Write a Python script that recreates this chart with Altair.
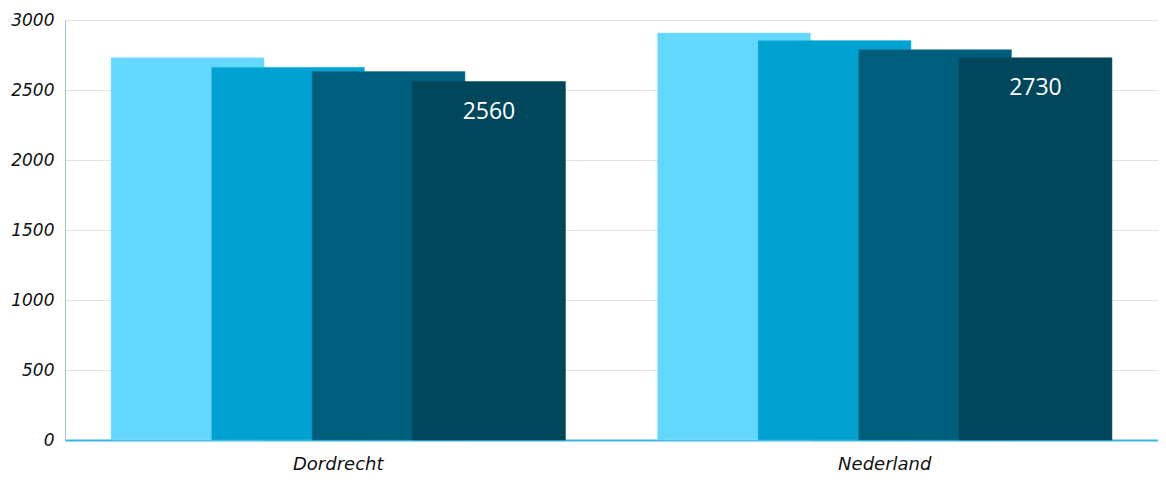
import altair as alt
import pandas as pd

categories = ["Dordrecht", "Nederland"]
series = ["s1", "s2", "s3", "s4"]
values_dordrecht = [2730, 2662, 2632, 2560]
values_nederland = [2908, 2853, 2788, 2730]
colors = ["#63D7FE", "#00A2D2", "#005E7D", "#00475C"]
stroke_colors = ["#8FE3FF", "#40C0E8", "#2A7C98", "#00475C"]
labelled_series = "s4"

rows = []
for cat, vals in zip(categories, [values_dordrecht, values_nederland]):
    for s, v in zip(series, vals):
        rows.append({"cat": cat, "series": s, "value": v})
df = pd.DataFrame(rows)

font = "DejaVu Sans"

x = alt.X("cat:N", sort=categories, scale=alt.Scale(paddingInner=0, paddingOuter=0),
          axis=alt.Axis(title=None, labelAngle=0, ticks=False, domainColor="#3AB3E0",
                        domainWidth=2, labelFont=font, labelFontSize=18,
                        labelFontStyle="italic", labelColor="#111", labelPadding=15))
xo = alt.XOffset("series:N", sort=series,
                 scale=alt.Scale(paddingInner=0, paddingOuter=0.72))
y = alt.Y("value:Q", scale=alt.Scale(domain=[0, 3000], nice=False),
          axis=alt.Axis(title=None, values=[0, 500, 1000, 1500, 2000, 2500, 3000],
                        format="d", ticks=False, domainColor="#9DC3EA", domainWidth=1,
                        gridColor="#E3E3E3", labelFont=font, labelFontSize=17,
                        labelFontStyle="italic", labelColor="#111", labelPadding=11))

bars = alt.Chart(df).mark_bar(width=153, strokeWidth=1, strokeOpacity=0.5).encode(
    x=x, xOffset=xo, y=y,
    color=alt.Color("series:N", sort=series, scale=alt.Scale(domain=series, range=colors), legend=None),
    stroke=alt.Stroke("series:N", sort=series, scale=alt.Scale(domain=series, range=stroke_colors), legend=None),
)

labels = alt.Chart(df).transform_filter(
    alt.datum.series == labelled_series
).mark_text(color="white", font="Open Sans", fontSize=23, baseline="middle", dy=30).encode(
    x=x, xOffset=xo, y=y, text=alt.Text("value:Q", format="d")
)

chart = alt.layer(bars, labels).properties(
    width=1093, height=420,
    autosize=alt.AutoSizeParams(type="none"),
    padding={"left": 57, "top": 12, "right": 0, "bottom": 36},
).configure_view(stroke=None).configure_axis(grid=True).configure_axisX(grid=False)

chart.save("out.html", embed_options={"renderer": "svg", "actions": False})
